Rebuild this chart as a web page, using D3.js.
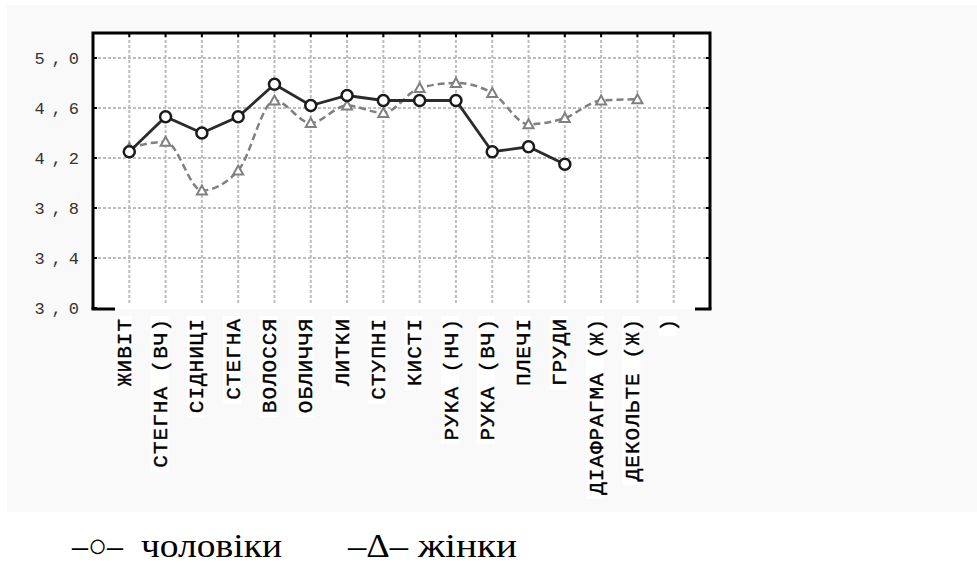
<!DOCTYPE html>
<html>
<head>
<meta charset="utf-8">
<script src="https://cdn.jsdelivr.net/npm/d3@7"></script>
<style>
  body { margin: 0; background: #fff; }
  svg { display: block; }
</style>
</head>
<body>
<script>
// data
const categories = ["ЖИВІТ", "СТЕГНА (ВЧ)", "СІДНИЦІ", "СТЕГНА", "ВОЛОССЯ", "ОБЛИЧЧЯ",
  "ЛИТКИ", "СТУПНІ", "КИСТІ", "РУКА (НЧ)", "РУКА (ВЧ)", "ПЛЕЧІ", "ГРУДИ",
  "ДІАФРАГМА (Ж)", "ДЕКОЛЬТЕ (Ж)", ")"];
const men = [4.25, 4.53, 4.40, 4.53, 4.79, 4.62, 4.70, 4.66, 4.66, 4.66, 4.25, 4.29, 4.15,
  null, null, null];
const women = [4.28, 4.33, 3.94, 4.10, 4.66, 4.48, 4.62, 4.56, 4.76, 4.80, 4.72, 4.47, 4.52,
  4.66, 4.67, null];
const yTicks = [3.0, 3.4, 3.8, 4.2, 4.6, 5.0];
const legendItems = ["–○–", "чоловіки", "–Δ–", "жінки"];

const W = 977, H = 563;
const box = { left: 93, right: 710, top: 33, bottom: 309 };

const svg = d3.select("body").append("svg")
  .attr("width", W)
  .attr("height", H);

// light grey backdrop of the scanned figure
svg.append("rect")
  .attr("x", 7).attr("y", 5)
  .attr("width", W - 7).attr("height", 507)
  .attr("fill", "#f9f9f9");

svg.append("rect")
  .attr("x", box.left).attr("y", box.top)
  .attr("width", box.right - box.left).attr("height", box.bottom - box.top)
  .attr("fill", "#fff");

const x = d3.scalePoint()
  .domain(categories)
  .range([box.left, box.right])
  .padding(1);

const y = d3.scaleLinear()
  .domain([3.0, 5.2])
  .range([box.bottom - 1, box.top]);

// grid
const grid = svg.append("g")
  .attr("stroke", "#bdbdbd")
  .attr("stroke-width", 2)
  .attr("stroke-dasharray", "3,2");

grid.selectAll(".vg")
  .data(categories)
  .join("line")
  .attr("x1", d => x(d)).attr("x2", d => x(d))
  .attr("y1", box.top + 2).attr("y2", box.bottom - 4);

grid.selectAll(".hg")
  .data(yTicks.filter(t => t > 3.0))
  .join("line")
  .attr("x1", box.left).attr("x2", box.right)
  .attr("y1", d => y(d)).attr("y2", d => y(d));

// frame
const frame = svg.append("g")
  .attr("stroke", "#000")
  .attr("stroke-width", 3)
  .attr("fill", "none");

frame.append("path")
  .attr("d", `M${box.left},${box.bottom} V${box.top} H${box.right} V${box.bottom}`);
frame.append("line")
  .attr("x1", box.left - 1.5).attr("x2", box.left + 22)
  .attr("y1", box.bottom).attr("y2", box.bottom);
frame.append("line")
  .attr("x1", box.right - 15).attr("x2", box.right + 1.5)
  .attr("y1", box.bottom).attr("y2", box.bottom);

// tick marks pointing inside
frame.selectAll(".tt")
  .data(categories)
  .join("line")
  .attr("stroke-width", 2)
  .attr("x1", d => x(d)).attr("x2", d => x(d))
  .attr("y1", box.top).attr("y2", box.top + 4);
frame.selectAll(".lt")
  .data(yTicks)
  .join("line")
  .attr("stroke-width", 2)
  .attr("x1", box.left).attr("x2", box.left + 4)
  .attr("y1", d => y(d)).attr("y2", d => y(d));
frame.selectAll(".rt")
  .data(yTicks.filter(t => t > 3.0))
  .join("line")
  .attr("stroke-width", 2)
  .attr("x1", box.right - 4).attr("x2", box.right)
  .attr("y1", d => y(d)).attr("y2", d => y(d));

// y tick labels
svg.append("g")
  .selectAll("text")
  .data(yTicks)
  .join("text")
  .attr("x", 86)
  .attr("y", d => y(d))
  .attr("dy", "0.35em")
  .attr("text-anchor", "end")
  .attr("font-family", "'Liberation Mono', 'Courier New', monospace")
  .attr("font-size", 17)
  .attr("letter-spacing", 7)
  .attr("fill", "#333")
  .text(d => d3.format(".1f")(d).replace(".", ","));

// x labels, rotated, on white patches
const lab = svg.append("g")
  .selectAll("g")
  .data(categories)
  .join("g")
  .attr("transform", d => `translate(${x(d) - 6},318) rotate(-90)`);

lab.append("text")
  .attr("text-anchor", "end")
  .attr("dy", "0.36em")
  .attr("font-family", "'Liberation Mono', 'Courier New', monospace")
  .attr("font-size", 21)
  .attr("letter-spacing", 1)
  .attr("fill", "#000")
  .attr("stroke", "#000")
  .attr("stroke-width", 0.4)
  .text(d => d);

lab.insert("rect", "text")
  .attr("fill", "#fff")
  .each(function () {
    const t = d3.select(this.parentNode).select("text").node();
    const len = t.getComputedTextLength();
    d3.select(this)
      .attr("x", -len - 4).attr("y", -9)
      .attr("width", len + 6).attr("height", 18);
  });

// lines
const menPts = categories.map((c, i) => ({ c, v: men[i] }));
const womenPts = categories.map((c, i) => ({ c, v: women[i] }));

svg.append("path")
  .datum(womenPts)
  .attr("fill", "none")
  .attr("stroke", "#808080")
  .attr("stroke-width", 2.5)
  .attr("stroke-dasharray", "7,4")
  .attr("d", d3.line()
    .defined(d => d.v != null)
    .curve(d3.curveMonotoneX)
    .x(d => x(d.c)).y(d => y(d.v)));

svg.append("g")
  .selectAll("path")
  .data(womenPts.filter(d => d.v != null))
  .join("path")
  .attr("transform", d => `translate(${x(d.c)},${y(d.v)})`)
  .attr("d", "M0,-5 L5,4 L-5,4 Z")
  .attr("fill", "#fff")
  .attr("stroke", "#808080")
  .attr("stroke-width", 2);

svg.append("path")
  .datum(menPts)
  .attr("fill", "none")
  .attr("stroke", "#2b2b2b")
  .attr("stroke-width", 2.8)
  .attr("d", d3.line()
    .defined(d => d.v != null)
    .x(d => x(d.c)).y(d => y(d.v)));

svg.append("g")
  .selectAll("circle")
  .data(menPts.filter(d => d.v != null))
  .join("circle")
  .attr("cx", d => x(d.c))
  .attr("cy", d => y(d.v))
  .attr("r", 5.5)
  .attr("fill", "#fff")
  .attr("stroke", "#1a1a1a")
  .attr("stroke-width", 2.5);

// legend: each piece placed and stretched to match the scan
const legendX = [72, 141, 348, 418];
const legendLen = [51, 141, 60, 99];
svg.append("g")
  .selectAll("text")
  .data(legendItems)
  .join("text")
  .attr("x", (d, i) => legendX[i])
  .attr("y", 557)
  .attr("font-family", "'Liberation Serif', 'Times New Roman', serif")
  .attr("font-size", 34)
  .attr("fill", "#000")
  .attr("textLength", (d, i) => legendLen[i])
  .attr("lengthAdjust", "spacingAndGlyphs")
  .text(d => d);
</script>
</body>
</html>
